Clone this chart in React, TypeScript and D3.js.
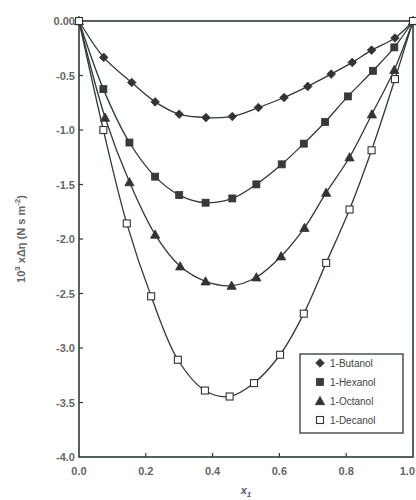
import React from "react";
import * as d3 from "d3";

const butanolX = [0, 0.074, 0.158, 0.228, 0.300, 0.380, 0.459, 0.537, 0.614, 0.685, 0.755, 0.818, 0.876, 0.946, 1];
const butanolY = [0, -0.334, -0.564, -0.742, -0.855, -0.886, -0.876, -0.794, -0.702, -0.600, -0.487, -0.380, -0.267, -0.156, 0];

const hexanolX = [0, 0.073, 0.151, 0.228, 0.300, 0.379, 0.459, 0.531, 0.607, 0.673, 0.737, 0.805, 0.880, 0.944, 1];
const hexanolY = [0, -0.625, -1.115, -1.428, -1.597, -1.667, -1.628, -1.499, -1.315, -1.125, -0.926, -0.692, -0.457, -0.242, 0];

const octanolX = [0, 0.078, 0.151, 0.228, 0.303, 0.379, 0.457, 0.531, 0.605, 0.675, 0.740, 0.810, 0.877, 0.944, 1];
const octanolY = [0, -0.886, -1.478, -1.959, -2.250, -2.388, -2.428, -2.351, -2.158, -1.897, -1.575, -1.250, -0.855, -0.448, 0];

const decanolX = [0, 0.073, 0.143, 0.216, 0.296, 0.377, 0.451, 0.524, 0.602, 0.673, 0.740, 0.810, 0.876, 0.946, 1];
const decanolY = [0, -1.0, -1.857, -2.526, -3.108, -3.390, -3.445, -3.322, -3.062, -2.685, -2.219, -1.729, -1.186, -0.533, 0];

const seriesNames = ["1-Butanol", "1-Hexanol", "1-Octanol", "1-Decanol"];
const seriesMarkers = ["diamond", "square", "triangle", "openSquare"];

const xTicks = [0, 0.2, 0.4, 0.6, 0.8, 1.0];
const xTickLabels = ["0.0", "0.2", "0.4", "0.6", "0.8", "1.0"];
const yTicks = [0, -0.5, -1.0, -1.5, -2.0, -2.5, -3.0, -3.5, -4.0];
const yTickLabels = ["0.00", "-0.5", "-1.0", "-1.5", "-2.0", "-2.5", "-3.0", "-3.5", "-4.0"];

const W = 416, H = 500;
const L = 79, R = 413, T = 21, B = 457;
const ink = "#2f3a3a";
const textCol = "#666";

function Marker({ type, x, y }: { type: string; x: number; y: number }) {
  if (type === "diamond") {
    const s = 4.3;
    return <path d={`M${x},${y - s}L${x + s},${y}L${x},${y + s}L${x - s},${y}Z`} fill="#333" stroke="#333" strokeWidth={0.8} />;
  }
  if (type === "square") {
    return <rect x={x - 3.5} y={y - 3.5} width={7} height={7} fill="#3a3a3a" stroke="#333" strokeWidth={0.8} />;
  }
  if (type === "triangle") {
    const s = 4.6;
    return <path d={`M${x},${y - s}L${x + s},${y + s * 0.8}L${x - s},${y + s * 0.8}Z`} fill="#333" stroke="#333" strokeWidth={0.8} />;
  }
  return <rect x={x - 3.5} y={y - 3.5} width={7} height={7} fill="#fff" stroke="#333" strokeWidth={1.1} />;
}

export default function App() {
  const x = d3.scaleLinear().domain([0, 1]).range([L, R]);
  const y = d3.scaleLinear().domain([0, -4]).range([T, B]);
  const allX = [butanolX, hexanolX, octanolX, decanolX];
  const allY = [butanolY, hexanolY, octanolY, decanolY];
  const line = d3
    .line<[number, number]>()
    .x((d) => x(d[0]))
    .y((d) => y(d[1]))
    .curve(d3.curveCatmullRom.alpha(0.5));

  const fontFamily = "'Liberation Sans', Arial, sans-serif";

  return (
    <svg width={W} height={H} style={{ position: "absolute", left: 0, top: 0 }} fontFamily={fontFamily}>
      <rect width={W} height={H} fill="#fff" />
      {/* frame */}
      <rect x={L} y={T} width={R - L} height={B - T} fill="none" stroke={ink} strokeWidth={1.6} />
      {/* ticks */}
      {xTicks.slice(1, -1).map((t) => (
        <line key={"xt" + t} x1={x(t)} x2={x(t)} y1={B} y2={B - 4} stroke={ink} strokeWidth={1.2} />
      ))}
      {yTicks.slice(1, -1).map((t) => (
        <line key={"yt" + t} x1={L} x2={L + 4} y1={y(t)} y2={y(t)} stroke={ink} strokeWidth={1.2} />
      ))}
      {xTicks.map((t, i) => (
        <text
          key={"xl" + t}
          x={i === xTicks.length - 1 ? W - 1 : x(t)}
          y={B + 18}
          textAnchor={i === xTicks.length - 1 ? "end" : "middle"}
          fontSize={11}
          fontWeight="bold"
          fill={textCol}
        >
          {xTickLabels[i]}
        </text>
      ))}
      {yTicks.map((t, i) => (
        <text key={"yl" + t} x={L - 4} y={y(t) + 4} textAnchor="end" fontSize={11} fontWeight="bold" fill={textCol}>
          {yTickLabels[i]}
        </text>
      ))}
      {/* axis titles */}
      <text x={(L + R) / 2} y={494} textAnchor="middle" fontSize={11} fontStyle="italic" fontWeight="bold" fill="#557">
        x<tspan fontSize={8} dy={3}>1</tspan>
      </text>
      <text
        transform={`translate(25,${(T + B) / 2 + 0}) rotate(-90)`}
        textAnchor="middle"
        fontSize={11}
        fontWeight="bold"
        fill={textCol}
      >
        10<tspan fontSize={8} dy={-5}>3</tspan>
        <tspan dy={5}> xΔη (N s m</tspan>
        <tspan fontSize={8} dy={-5}>-2</tspan>
        <tspan dy={5}>)</tspan>
      </text>
      {/* lines */}
      {allX.map((xs, si) => (
        <path
          key={"l" + si}
          d={line(xs.map((v, i) => [v, allY[si][i]] as [number, number])) || ""}
          fill="none"
          stroke={ink}
          strokeWidth={1.3}
        />
      ))}
      {/* markers */}
      {allX.map((xs, si) =>
        xs.map((v, i) => <Marker key={`m${si}-${i}`} type={seriesMarkers[si]} x={x(v)} y={y(allY[si][i])} />)
      )}
      {/* legend */}
      <rect x={300} y={354} width={103} height={79} fill="#fff" stroke={ink} strokeWidth={1.3} />
      {seriesNames.map((n, i) => (
        <g key={"lg" + n}>
          <Marker type={seriesMarkers[i]} x={320} y={363 + i * 19} />
          <text x={330} y={363 + i * 19 + 4} fontSize={10} fill="#444">
            {n}
          </text>
        </g>
      ))}
    </svg>
  );
}
